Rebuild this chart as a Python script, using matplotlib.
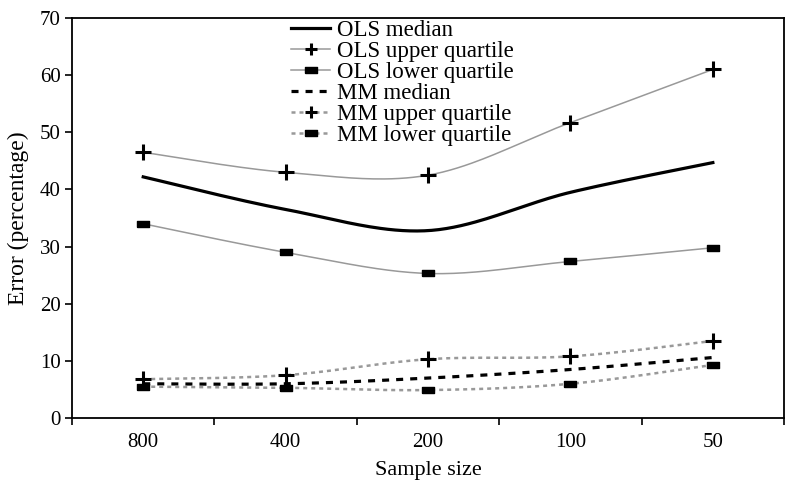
import numpy as np
import matplotlib.pyplot as plt
from matplotlib.lines import Line2D

plt.rcParams['font.family'] = ['Liberation Serif', 'DejaVu Serif']

sizes = ['800', '400', '200', '100', '50']
ols_median = [42.2, 36.5, 32.8, 39.5, 44.7]
ols_upper = [46.5, 43.0, 42.5, 51.7, 61.0]
ols_lower = [34.0, 29.0, 25.3, 27.4, 29.8]
mm_median = [6.0, 6.0, 7.0, 8.5, 10.6]
mm_upper = [6.8, 7.5, 10.3, 10.8, 13.5]
mm_lower = [5.5, 5.3, 4.9, 6.0, 9.3]


def smooth(x, y, n=40):
    # Excel-style smoothed line: cubic bezier with catmull-rom control points
    x = np.asarray(x, float)
    y = np.asarray(y, float)
    px = np.concatenate([[x[0]], x, [x[-1]]])
    py = np.concatenate([[y[0]], y, [y[-1]]])
    xs, ys = [], []
    t = np.linspace(0, 1, n)
    for i in range(1, len(x)):
        p0 = np.array([px[i], py[i]])
        p3 = np.array([px[i + 1], py[i + 1]])
        c1 = p0 + (np.array([px[i + 1], py[i + 1]]) - np.array([px[i - 1], py[i - 1]])) / 6
        c2 = p3 - (np.array([px[i + 2], py[i + 2]]) - np.array([px[i], py[i]])) / 6
        b = ((1 - t) ** 3)[:, None] * p0 + (3 * (1 - t) ** 2 * t)[:, None] * c1 \
            + (3 * (1 - t) * t ** 2)[:, None] * c2 + (t ** 3)[:, None] * p3
        xs.append(b[:, 0])
        ys.append(b[:, 1])
    return np.concatenate(xs), np.concatenate(ys)


rect = [(-1, -0.5), (1, -0.5), (1, 0.5), (-1, 0.5), (-1, -0.5)]
grey = '#999999'
x = np.arange(len(sizes))

fig = plt.figure(figsize=(7.88, 4.8), dpi=100)
ax = fig.add_axes([0.0914, 0.129, 0.9036, 0.8335])

styles = [
    (ols_median, dict(color='black', lw=2.3, ls='-'), None, 'OLS median'),
    (ols_upper, dict(color=grey, lw=1.1, ls='-'), '+', 'OLS upper quartile'),
    (ols_lower, dict(color=grey, lw=1.1, ls='-'), rect, 'OLS lower quartile'),
    (mm_median, dict(color='black', lw=2.3, ls=(0, (2.2, 2.2))), None, 'MM median'),
    (mm_upper, dict(color=grey, lw=1.8, ls=(0, (1.6, 1.6))), '+', 'MM upper quartile'),
    (mm_lower, dict(color=grey, lw=1.8, ls=(0, (1.6, 1.6))), rect, 'MM lower quartile'),
]

handles = []
for vals, st, mk, lab in styles:
    sx, sy = smooth(x, vals)
    ax.plot(sx, sy, **st)
    if mk == '+':
        ax.plot(x, vals, ls='none', marker='+', ms=11, mew=2.2, color='black')
        handles.append(Line2D([], [], marker='+', ms=9, mew=2.2, mec='black', **st))
    elif mk is not None:
        ax.plot(x, vals, ls='none', marker=mk, ms=8.5, color='black')
        handles.append(Line2D([], [], marker=mk, ms=8, mfc='black', mec='black', **st))
    else:
        handles.append(Line2D([], [], **st))

ax.set_xlim(-0.5, 4.5)
ax.set_ylim(0, 70)
ax.set_yticks(range(0, 71, 10))
ax.set_xticks(np.arange(-0.5, 5, 1))
ax.set_xticklabels([])
ax.set_xticks(x, minor=True)
ax.set_xticklabels(sizes, minor=True)
ax.tick_params(axis='x', which='minor', length=0, pad=11, labelsize=15)
ax.tick_params(axis='x', which='major', length=5, width=1.2, direction='out')
ax.tick_params(axis='y', length=5, width=1.2, direction='out', labelsize=15, pad=3)
for s in ax.spines.values():
    s.set_linewidth(1.3)

ax.set_xlabel('Sample size', fontsize=16, labelpad=6)
ax.set_ylabel('Error (percentage)', fontsize=17, labelpad=8)

fig.legend(handles=handles, labels=[s[3] for s in styles], loc='upper left',
           bbox_to_anchor=(0.355, 0.983), frameon=False, fontsize=16.5,
           handlelength=1.7, handletextpad=0.3, labelspacing=0.0, borderpad=0)

fig.savefig('out.png', dpi=100)
